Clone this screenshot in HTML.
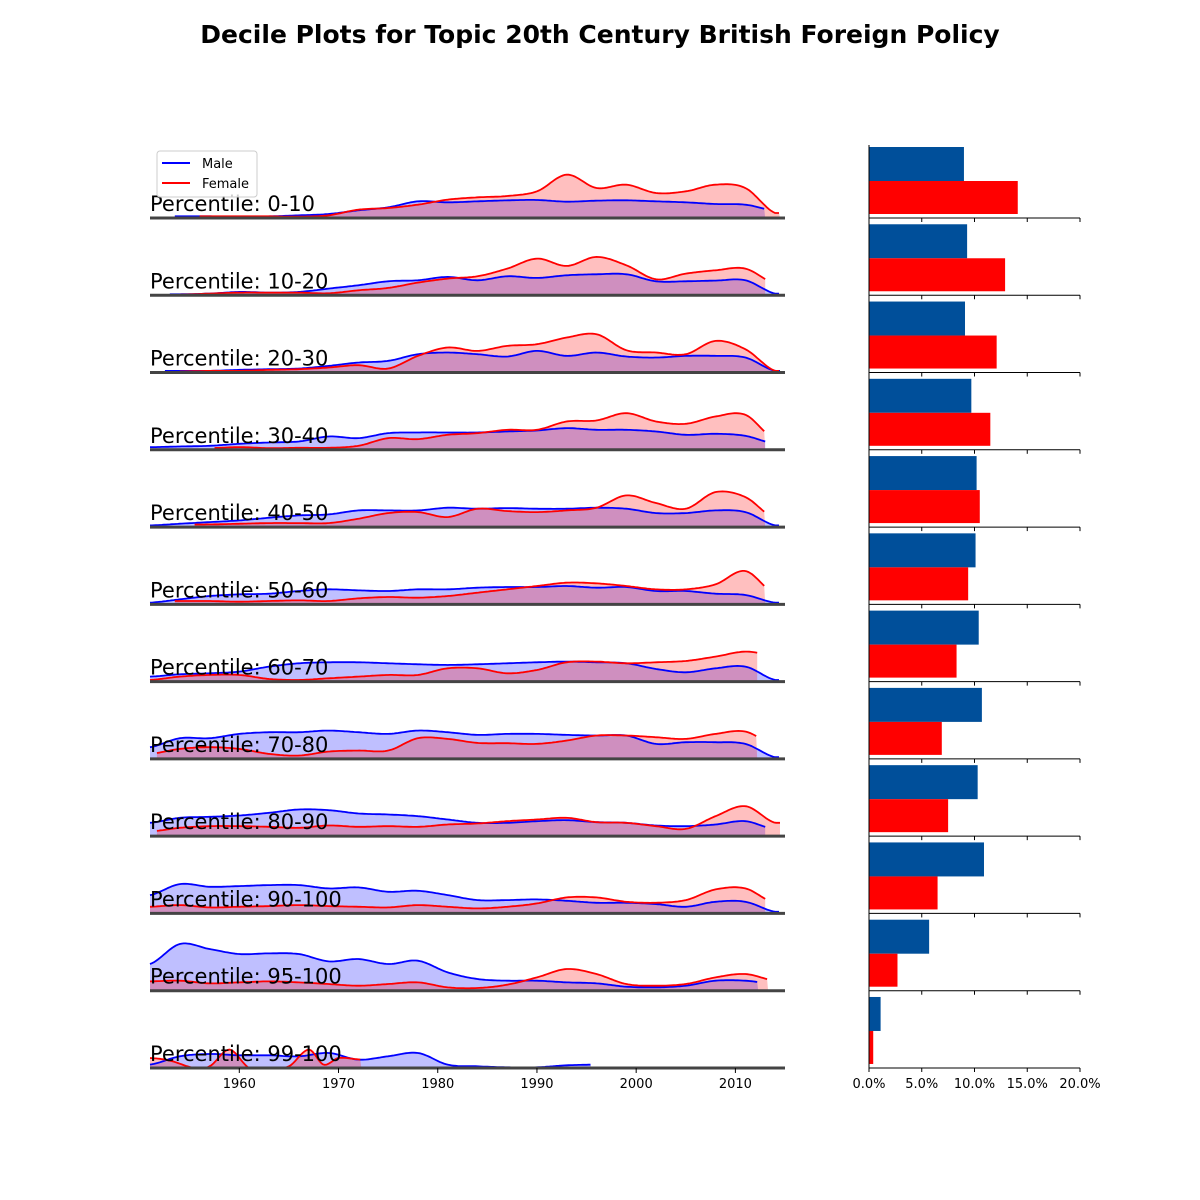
<!DOCTYPE html>
<html><head><meta charset="utf-8"><style>
html,body{margin:0;padding:0;background:#fff;}
svg{display:block;font-family:"DejaVu Sans","Liberation Sans",sans-serif;}
</style></head><body>
<svg id="chart" width="1200" height="1200" viewBox="0 0 1200 1200" xmlns="http://www.w3.org/2000/svg">
<text x="600" y="43" text-anchor="middle" font-size="25" font-weight="bold">Decile Plots for Topic 20th Century British Foreign Policy</text>
<g id="ridges"></g>
<g id="bars"></g>
<g id="legend">
<rect x="157" y="151" width="100" height="46" rx="3" fill="#fff" fill-opacity="0.8" stroke="#ccc"/>
<line x1="162" y1="163" x2="190" y2="163" stroke="#0000ff" stroke-width="2"/>
<text x="202" y="168" font-size="13">Male</text>
<line x1="162" y1="183" x2="190" y2="183" stroke="#ff0000" stroke-width="2"/>
<text x="202" y="188" font-size="13">Female</text>
</g>
</svg>
<script>
const labels = ["0-10","10-20","20-30","30-40","40-50","50-60","60-70","70-80","80-90","90-100","95-100","99-100"];
const years = [1951,1954,1957,1960,1963,1966,1969,1972,1975,1978,1981,1984,1987,1990,1993,1996,1999,2002,2005,2008,2011,2014];
const maleDensity = [
 [5,5,5,4,5,8,12,23,32,50,47,50,53,54,49,52,53,50,47,42,40,22],
 [3,3,5,10,8,10,20,30,42,45,55,45,57,52,60,63,63,42,42,44,45,5],
 [5,5,5,8,10,12,20,30,35,55,60,55,48,65,50,60,48,45,50,50,45,5],
 [8,10,12,18,22,25,40,35,50,52,52,52,55,58,65,60,60,55,45,48,42,18],
 [5,10,15,20,28,35,38,50,50,50,58,55,57,55,55,58,55,42,42,50,45,5],
 [5,15,25,30,32,40,45,42,40,45,45,50,52,52,55,50,52,40,40,32,28,5],
 [15,22,25,30,45,55,58,58,55,52,50,52,55,58,60,58,55,38,28,40,45,5],
 [35,62,62,75,80,80,85,80,75,85,80,72,75,75,72,70,70,45,50,50,45,5],
 [40,55,58,62,70,80,78,68,65,60,50,40,40,45,48,42,40,32,30,35,45,20],
 [55,88,80,82,85,85,75,78,65,68,55,40,40,42,38,32,32,28,20,35,35,5],
 [80,140,125,110,112,110,88,95,80,90,55,35,30,30,25,22,12,10,15,30,30,20],
 [10,35,42,38,38,35,45,25,35,45,10,5,2,2,8,10,10,0,0,0,0,0]
];
const femaleDensity = [
 [5,5,5,5,5,4,8,25,30,40,55,62,66,80,130,90,100,75,80,100,90,15],
 [2,2,5,8,8,8,6,15,22,38,50,57,80,110,88,115,90,48,65,75,80,35],
 [3,3,5,5,8,10,15,22,12,50,75,65,80,85,105,115,67,60,55,95,70,5],
 [5,5,5,8,5,6,6,12,35,32,45,50,60,60,85,88,110,85,78,100,105,30],
 [8,8,8,10,12,12,12,25,42,45,30,55,48,45,50,58,95,72,55,105,90,25],
 [10,10,10,8,10,12,10,18,22,20,25,35,45,55,65,63,55,45,45,60,100,30],
 [5,15,20,20,8,5,10,15,20,20,40,40,25,35,58,60,55,58,62,75,90,78],
 [15,30,35,30,15,10,22,25,25,62,60,48,47,45,55,70,70,65,60,75,82,40],
 [14,25,30,30,28,25,32,28,30,28,35,38,45,50,55,42,40,30,22,60,90,40],
 [20,25,18,20,22,25,22,20,18,25,20,15,20,30,48,48,35,32,40,72,75,30],
 [28,30,22,25,28,25,20,15,20,25,10,8,18,40,65,50,20,15,20,40,50,30],
 [0,0,0,0,0,0,0,0,0,0,0,0,0,0,0,0,0,0,0,0,0,0]
];
const femaleYears99 = [1951,1953,1955.5,1957,1959,1961,1963,1965,1967,1968.5,1970,1972.3];
const femaleValues99 = [30,22,0,5,55,0,0,5,55,10,30,25];
const maleStart = [1953.5,1953,1952.5,1951,1951,1951,1951,1951,1951,1951,1951,1951];
const maleEnd = [2013,2014.5,2014.5,2013,2014.5,2014.5,2014.5,2014.5,2013,2014.5,2012.3,1995.5];
const femaleStart = [1956,1954,1954,1957.5,1955.5,1953.5,1951,1951.7,1951.7,1951,1951,1951];
const femaleEnd = [2014.5,2013,2014.5,2013,2013,2013,2012.2,2012.2,2014.5,2013,2013.3,1972.3];
const maleShare = [9.0,9.3,9.1,9.7,10.2,10.1,10.4,10.7,10.3,10.9,5.7,1.1];
const femaleShare = [14.1,12.9,12.1,11.5,10.5,9.4,8.3,6.9,7.5,6.5,2.7,0.4];
const xTicks = [1960,1970,1980,1990,2000,2010];
const pctTicks = [0,5,10,15,20];

const NS = "http://www.w3.org/2000/svg";
const X0 = 150, X1 = 785, YEAR0 = 1951, YEAR1 = 2015;
const ROW_TOP = 218, ROW_STEP = 77.27;
function xScale(y){ return X0 + (y - YEAR0) * (X1 - X0) / (YEAR1 - YEAR0); }
function baseline(i){ return ROW_TOP + i * ROW_STEP; }
function yScale(v, i){ return baseline(i) - Math.max(0, v) / 3; }
const BX0 = 869, BX1 = 1080;
function pScale(p){ return BX0 + p * (BX1 - BX0) / 20; }

function mk(tag, attrs, parent){
  const el = document.createElementNS(NS, tag);
  for (const k in attrs) el.setAttribute(k, attrs[k]);
  parent.appendChild(el); return el;
}
function interp(xs, vs, t){
  if (t <= xs[0]) return vs[0];
  const n = xs.length;
  if (t >= xs[n-1]) return vs[n-1];
  let k = 0; while (k < n-2 && t > xs[k+1]) k++;
  const u = (t - xs[k]) / (xs[k+1] - xs[k]);
  const p0 = vs[Math.max(0,k-1)], p1 = vs[k], p2 = vs[k+1], p3 = vs[Math.min(n-1,k+2)];
  return 0.5*((2*p1) + (-p0+p2)*u + (2*p0-5*p1+4*p2-p3)*u*u + (-p0+3*p1-3*p2+p3)*u*u*u);
}
function paths(xs, vs, a, b, i){
  const pts = [];
  for (let t = a; t <= b + 1e-9; t += 0.2) pts.push([xScale(t), yScale(interp(xs, vs, t), i)]);
  const line = pts.map((p,k)=>(k?"L":"M")+p[0].toFixed(1)+","+p[1].toFixed(1)).join("");
  const area = line + "L" + xScale(b).toFixed(1) + "," + baseline(i) + "L" + xScale(a).toFixed(1) + "," + baseline(i) + "Z";
  return {line, area};
}
function addFill(g, d, color, who){
  const fa = mk("path", {d: d, fill: color, "fill-opacity": 0.25, stroke: "none"}, g);
  
  
}
function addLine(g, d, color, who){
  const ln = mk("path", {d: d, fill: "none", stroke: color, "stroke-width": 1.8}, g);
  
  
}

const ridges = document.getElementById("ridges");
const bars = document.getElementById("bars");
labels.forEach((lab, i) => {
  const g = mk("g", {}, ridges);
  
  
  const m = paths(years, maleDensity[i], maleStart[i], maleEnd[i], i);
  const f = (i === 11) ? paths(femaleYears99, femaleValues99, femaleStart[i], femaleEnd[i], i)
                       : paths(years, femaleDensity[i], femaleStart[i], femaleEnd[i], i);
  addFill(g, m.area, "#0000ff", "male");
  addFill(g, f.area, "#ff0000", "female");
  addLine(g, m.line, "#0000ff", "male");
  addLine(g, f.line, "#ff0000", "female");
  const bl = mk("line", {x1: X0, x2: X1, y1: baseline(i), y2: baseline(i), stroke: "#444", "stroke-width": 3}, g);
  
  
  const tx = mk("text", {x: X0, y: baseline(i) - 7, "font-size": 21}, g);
  tx.textContent = "Percentile: " + lab;
  
  

  const bg = mk("g", {}, bars);
  
  
  const b = baseline(i);
  const mb = mk("rect", {x: pScale(0), y: b - 71, width: pScale(maleShare[i]) - pScale(0), height: 34, fill: "#004f9a"}, bg);
  
  
  const fb = mk("rect", {x: pScale(0), y: b - 37, width: pScale(femaleShare[i]) - pScale(0), height: 33, fill: "#ff0000"}, bg);
  
  
  const ax = mk("line", {x1: BX0, x2: BX1, y1: b, y2: b, stroke: "#000", "stroke-width": 1}, bg);
  
  
  pctTicks.forEach(p => {
    const t = mk("line", {x1: pScale(p), x2: pScale(p), y1: b, y2: b + 4, stroke: "#000", "stroke-width": 1}, bg);
    
    
  });
});
const spine = mk("line", {x1: BX0, x2: BX0, y1: 145, y2: baseline(11), stroke: "#000", "stroke-width": 1}, bars);


pctTicks.forEach(p => {
  const t = mk("text", {x: pScale(p), y: 1088, "font-size": 13, "text-anchor": "middle"}, bars);
  t.textContent = p.toFixed(1) + "%";
  
  
});
const last = baseline(11);
xTicks.forEach(y => {
  const t = mk("line", {x1: xScale(y), x2: xScale(y), y1: last, y2: last + 5, stroke: "#000", "stroke-width": 1}, ridges);
  
  
  const l = mk("text", {x: xScale(y), y: 1088, "font-size": 13, "text-anchor": "middle"}, ridges);
  l.textContent = y;
  
  
});
</script>
</body></html>
